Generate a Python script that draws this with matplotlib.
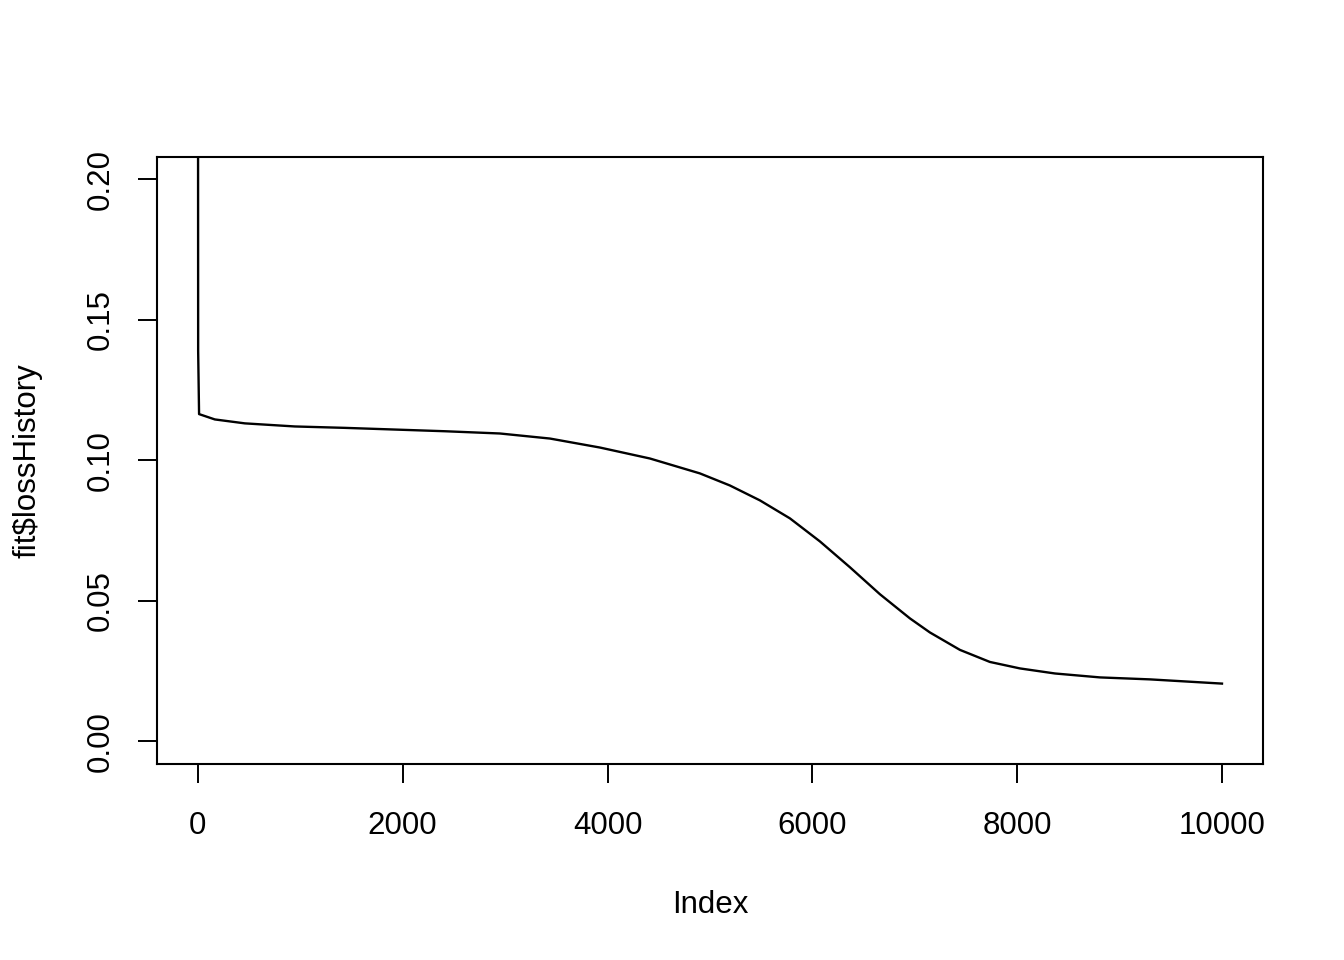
import matplotlib
matplotlib.use("Agg")
import matplotlib.pyplot as plt

plt.rcParams['font.family'] = ['Liberation Sans', 'DejaVu Sans']

# loss history (index, loss)
idx = [1, 3, 12, 166, 459, 947, 1436, 1924, 2412, 2949, 3438, 3926,
       4414, 4902, 5195, 5488, 5781, 6074, 6367, 6660, 6953, 7148,
       7441, 7734, 8027, 8369, 8809, 9297, 10000]
loss = [0.30, 0.139, 0.1165, 0.1146, 0.1132, 0.1121, 0.1116, 0.1110,
        0.1104, 0.1096, 0.1078, 0.1046, 0.1007, 0.0954, 0.0911, 0.0858,
        0.0794, 0.0712, 0.0620, 0.0524, 0.0438, 0.0388, 0.0326, 0.0283,
        0.0260, 0.0242, 0.0228, 0.0221, 0.0206]

xticks = [0, 2000, 4000, 6000, 8000, 10000]
yticks = [0.00, 0.05, 0.10, 0.15, 0.20]

fig = plt.figure(figsize=(13.44, 9.6), dpi=100)
ax = fig.add_axes([0.1168, 0.2042, 0.8229, 0.6323])
ax.plot(idx, loss, color='black', lw=1.7, solid_joinstyle='round')

ax.set_xlim(-399, 10400)
ax.set_ylim(-0.008, 0.208)
ax.set_xticks(xticks)
ax.set_xticklabels([str(t) for t in xticks])
ax.set_yticks(yticks)
ax.set_yticklabels(['%.2f' % t for t in yticks], rotation=90, va='center')
ax.tick_params(labelsize=22.5, length=14, width=1.4)
ax.tick_params(axis='x', pad=20)
ax.tick_params(axis='y', pad=16)
for s in ax.spines.values():
    s.set_linewidth(1.5)

ax.set_xlabel('Index', fontsize=22.5, labelpad=35)
ax.set_ylabel('fit\\$lossHistory', fontsize=22.5, labelpad=31)

fig.savefig('out.png', dpi=100)
